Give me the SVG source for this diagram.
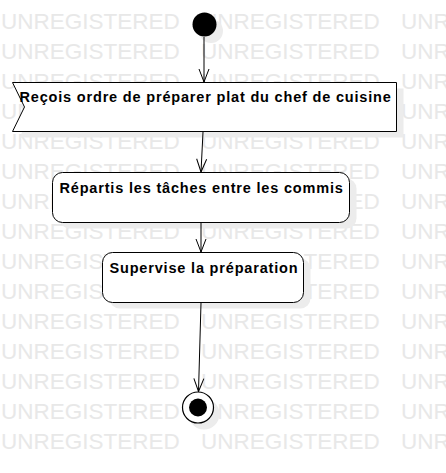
<svg xmlns="http://www.w3.org/2000/svg" width="446" height="473" viewBox="0 0 446 473">
<style>
.wm{font-family:"Liberation Sans",Arial,sans-serif;font-size:22.5px;word-spacing:15px;fill:#e8e8e8}
.shadow{fill:#ececec;stroke:none}
.box{fill:#fff;stroke:#000;stroke-width:1}
.lbl{font-family:"Liberation Sans",Arial,sans-serif;font-size:14.5px;font-weight:bold;letter-spacing:0.82px;fill:#000}
.edge{fill:none;stroke:#000;stroke-width:1;marker-end:url(#arr)}
</style>
<defs>
<marker id="arr" markerUnits="userSpaceOnUse" viewBox="-14 -7 16 14" refX="0" refY="0" markerWidth="16" markerHeight="14" orient="auto" overflow="visible">
<path d="M-13,-5 L0,0 L-13,5" fill="none" stroke="#000" stroke-width="1"/>
</marker>
</defs>
<rect width="446" height="473" fill="#fff"/>
<g id="watermark" class="wm">
<text x="1" y="29">UNREGISTERED UNREGISTERED UNR</text>
<text x="1" y="59">UNREGISTERED UNREGISTERED UNR</text>
<text x="1" y="89">UNREGISTERED UNREGISTERED UNR</text>
<text x="1" y="119">UNREGISTERED UNREGISTERED UNR</text>
<text x="1" y="149">UNREGISTERED UNREGISTERED UNR</text>
<text x="1" y="179">UNREGISTERED UNREGISTERED UNR</text>
<text x="1" y="209">UNREGISTERED UNREGISTERED UNR</text>
<text x="1" y="239">UNREGISTERED UNREGISTERED UNR</text>
<text x="1" y="269">UNREGISTERED UNREGISTERED UNR</text>
<text x="1" y="299">UNREGISTERED UNREGISTERED UNR</text>
<text x="1" y="329">UNREGISTERED UNREGISTERED UNR</text>
<text x="1" y="359">UNREGISTERED UNREGISTERED UNR</text>
<text x="1" y="389">UNREGISTERED UNREGISTERED UNR</text>
<text x="1" y="419">UNREGISTERED UNREGISTERED UNR</text>
<text x="1" y="449">UNREGISTERED UNREGISTERED UNR</text>
</g>
<g id="shadows">
<circle class="shadow" cx="211" cy="31" r="12"/>
<path class="shadow" d="M19.5,88.5 H403.5 V137.5 H19.5 L31.5,113 Z"/>
<rect class="shadow" x="59.5" y="178.5" width="297" height="50" rx="10"/>
<rect class="shadow" x="109.5" y="258.5" width="201" height="50" rx="10"/>
<circle class="shadow" cx="204" cy="414" r="15.5"/>
</g>
<g id="connectors">
<line class="edge" x1="204" y1="37" x2="204" y2="82"/>
<line class="edge" x1="203" y1="132" x2="201" y2="172"/>
<line class="edge" x1="201" y1="223" x2="201" y2="252"/>
<line class="edge" x1="201" y1="303" x2="198.5" y2="391.5"/>
</g>
<g id="start">
<circle cx="204.5" cy="24.5" r="12" fill="#000"/>
</g>
<g id="n1">
<path class="box" d="M12.5,82.5 H396.5 V131.5 H12.5 L24.5,107 Z"/>
<text class="lbl" x="19.5" y="101.5">Reçois ordre de préparer plat du chef de cuisine</text>
</g>
<g id="n2">
<rect class="box" x="52.5" y="172.5" width="297" height="50" rx="10"/>
<text class="lbl" x="59.5" y="192.8">Répartis les tâches entre les commis</text>
</g>
<g id="n3">
<rect class="box" x="102.5" y="252.5" width="201" height="50" rx="10"/>
<text class="lbl" x="109.5" y="272.8">Supervise la préparation</text>
</g>
<g id="end">
<circle cx="198" cy="407.5" r="15.5" fill="#fff" stroke="#000" stroke-width="1.2"/>
<circle cx="198" cy="407.5" r="9" fill="#000"/>
</g>
</svg>
